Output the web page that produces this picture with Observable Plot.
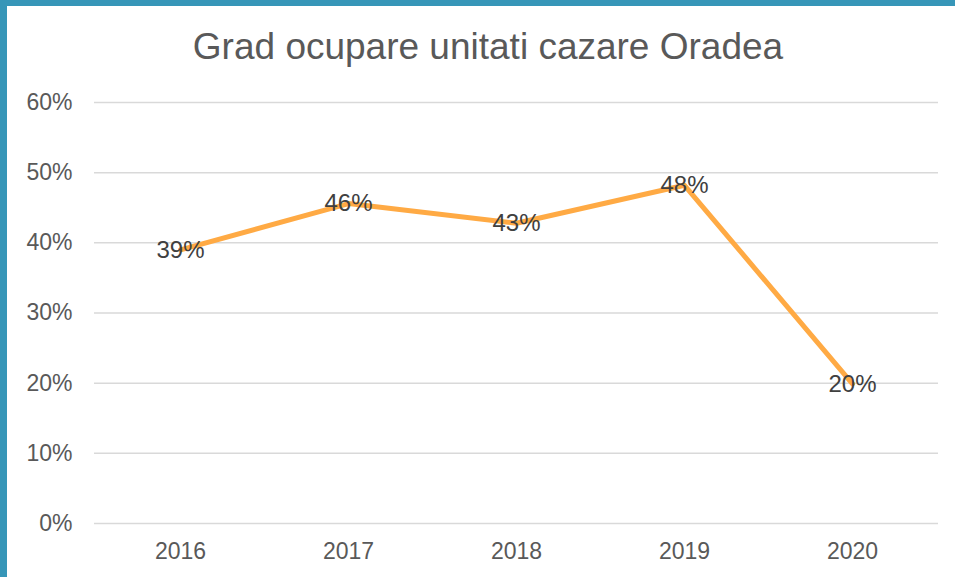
<!DOCTYPE html>
<html>
<head>
<meta charset="utf-8">
<script src="https://cdn.jsdelivr.net/npm/d3@7"></script>
<script src="https://cdn.jsdelivr.net/npm/@observablehq/plot@0.6"></script>
<style>
  html, body { margin: 0; padding: 0; background: #fff; }
  #frame {
    position: relative; width: 955px; height: 577px; box-sizing: border-box;
    border-left: 7px solid #3796B8; border-top: 6px solid #3796B8; background: #fff;
    font-family: "Liberation Sans", Arial, sans-serif; overflow: hidden;
  }
  #title {
    position: absolute; left: 7px; top: 22px; width: 948px; text-align: center;
    font-size: 37px; line-height: 37px; color: #595959;
  }
  #chart { position: absolute; left: 0; top: 0; }
</style>
</head>
<body>
<div id="frame">
  <div id="title">Grad ocupare unitati cazare Oradea</div>
  <div id="chart"></div>
</div>
<script>
const years = ["2016", "2017", "2018", "2019", "2020"];
const occupancy = [0.39, 0.456, 0.428, 0.482, 0.199];
const yTicks = [0, 0.1, 0.2, 0.3, 0.4, 0.5, 0.6];

const data = years.map((year, i) => ({year, value: occupancy[i]}));
const pct = d3.format(".0%");

const chart = Plot.plot({
  width: 948,
  height: 571,
  marginTop: 96,
  marginBottom: 54,
  marginLeft: 87,
  marginRight: 17,
  style: {fontFamily: '"Liberation Sans", Arial, sans-serif', fontSize: "23px", background: "transparent"},
  x: {type: "point", domain: years, padding: 0.5},
  y: {domain: [0, 0.6]},
  marks: [
    Plot.gridY(yTicks, {stroke: "#d9d9d9", strokeOpacity: 1, strokeWidth: 1.5}),
    Plot.axisY({ticks: yTicks, tickFormat: pct, tickSize: 0, tickPadding: 22, fontSize: 23, fill: "#595959", label: null}),
    Plot.axisX({tickSize: 0, tickPadding: 19, fontSize: 23, fill: "#595959", label: null}),
    Plot.line(data, {x: "year", y: "value", stroke: "#FFAA44", strokeWidth: 5, strokeLinejoin: "round", strokeLinecap: "round"}),
    Plot.text(data, {x: "year", y: "value", text: d => pct(d.value), fontSize: 24, fill: "#404040"})
  ]
});
document.getElementById("chart").appendChild(chart);
</script>
</body>
</html>
